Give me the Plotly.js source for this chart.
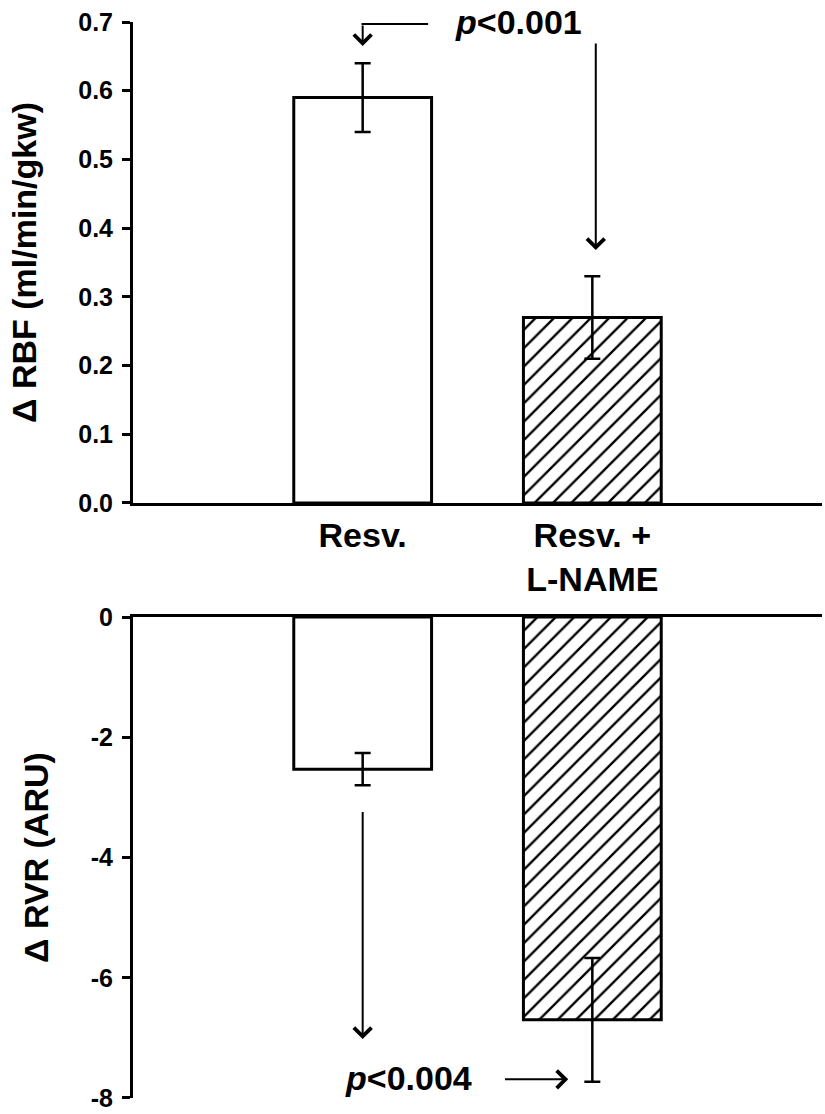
<!DOCTYPE html>
<html>
<head>
<meta charset="utf-8">
<script src="https://cdn.plot.ly/plotly-3.0.1.min.js"></script>
<style>
  body { margin: 0; background: #fff; }
  #plotArea { width: 825px; height: 1114px; }
</style>
</head>
<body>
<div id="plotArea"></div>
<script>
// groups
var categories = ["Resv.", "Resv. +<br>L-NAME"];

// top panel: change in renal blood flow
var rbfMean = [0.59, 0.27];
var rbfSem = [0.05, 0.06];
var rbfTicks = [0.0, 0.1, 0.2, 0.3, 0.4, 0.5, 0.6, 0.7];
var rbfTickText = ["0.0", "0.1", "0.2", "0.3", "0.4", "0.5", "0.6", "0.7"];

// bottom panel: change in renal vascular resistance
var rvrMean = [-2.53, -6.7];
var rvrSem = [0.27, 1.03];
var rvrTicks = [0, -2, -4, -6, -8];
var rvrTickText = ["0", "-2", "-4", "-6", "-8"];

var font = { family: "Liberation Sans, Arial, sans-serif", color: "#000", weight: 700 };
var barPattern = { shape: ["", "/"], fgcolor: "#000", bgcolor: "#fff", size: 13, solidity: 0.18 };

var topBars = {
  x: categories,
  y: rbfMean,
  type: "bar",
  width: 0.6,
  marker: { color: "#fff", pattern: barPattern, line: { color: "#000", width: 3 } },
  error_y: { type: "data", array: rbfSem, visible: true, color: "#000", thickness: 2.5, width: 8 },
  xaxis: "x",
  yaxis: "y",
};

var bottomBars = {
  x: categories,
  y: rvrMean,
  type: "bar",
  width: 0.6,
  marker: { color: "#fff", pattern: barPattern, line: { color: "#000", width: 3 } },
  error_y: { type: "data", array: rvrSem, visible: true, color: "#000", thickness: 2.5, width: 8 },
  xaxis: "x2",
  yaxis: "y2",
};

var data = [topBars, bottomBars];

// arrows for the p values
function arrow(xr, yr, x, y, ax, ay) {
  return {
    xref: xr, yref: yr, axref: xr, ayref: yr,
    x: x, y: y, ax: ax, ay: ay,
    text: "", showarrow: true,
    arrowhead: 4, arrowsize: 1.7, arrowwidth: 2, arrowcolor: "#000",
  };
}

var annotations = [
  { xref: "x", yref: "y", x: 0.68, y: 0.70, text: "<i>p</i><0.001", showarrow: false,
    font: Object.assign({}, font, { size: 34 }) },
  arrow("x", "y", 0, 0.665, 0, 0.697),
  arrow("x", "y", 1.015, 0.368, 1.015, 0.671),
  { xref: "x2", yref: "y2", x: 0.2, y: -7.67, text: "<i>p</i><0.004", showarrow: false,
    font: Object.assign({}, font, { size: 34 }) },
  arrow("x2", "y2", 0, -7.02, 0, -3.22),
  arrow("x2", "y2", 0.895, -7.69, 0.613, -7.69),
];

var shapes = [
  { type: "line", xref: "x", yref: "y", x0: 0.285, x1: -0.005, y0: 0.697, y1: 0.697,
    line: { color: "#000", width: 2 } },
];

var yBase = {
  showline: true, linecolor: "#000", linewidth: 3,
  ticks: "outside", ticklen: 8, tickwidth: 3, tickcolor: "#000",
  ticklabelstandoff: 4,
  showgrid: false, zeroline: false,
  tickfont: Object.assign({}, font, { size: 25 }),
  fixedrange: true,
};

var layout = {
  width: 825,
  height: 1114,
  margin: { l: 133, r: 3, t: 22, b: 16 },
  paper_bgcolor: "#fff",
  plot_bgcolor: "#fff",
  showlegend: false,
  bargap: 0.4,
  xaxis: {
    domain: [0, 1], anchor: "y", range: [-1, 2],
    showline: true, linecolor: "#000", linewidth: 3,
    ticks: "", showgrid: false, zeroline: false,
    tickfont: Object.assign({}, font, { size: 34 }),
  },
  yaxis: Object.assign({}, yBase, {
    domain: [0.553, 1], anchor: "x", range: [0, 0.7],
    tickvals: rbfTicks, ticktext: rbfTickText,
    title: { text: "Δ RBF (ml/min/gkw)", font: Object.assign({}, font, { size: 34 }), standoff: 32 },
  }),
  xaxis2: {
    domain: [0, 1], anchor: "y2", side: "top", range: [-1, 2],
    showline: true, linecolor: "#000", linewidth: 3,
    ticks: "", showticklabels: false, showgrid: false, zeroline: false,
  },
  yaxis2: Object.assign({}, yBase, {
    domain: [0, 0.447], anchor: "x2", range: [-8, 0],
    tickvals: rvrTicks, ticktext: rvrTickText,
    title: { text: "Δ RVR (ARU)", font: Object.assign({}, font, { size: 34 }), standoff: 32 },
  }),
  annotations: annotations,
  shapes: shapes,
};

Plotly.newPlot("plotArea", data, layout, { displayModeBar: false, staticPlot: true });
</script>
</body>
</html>
